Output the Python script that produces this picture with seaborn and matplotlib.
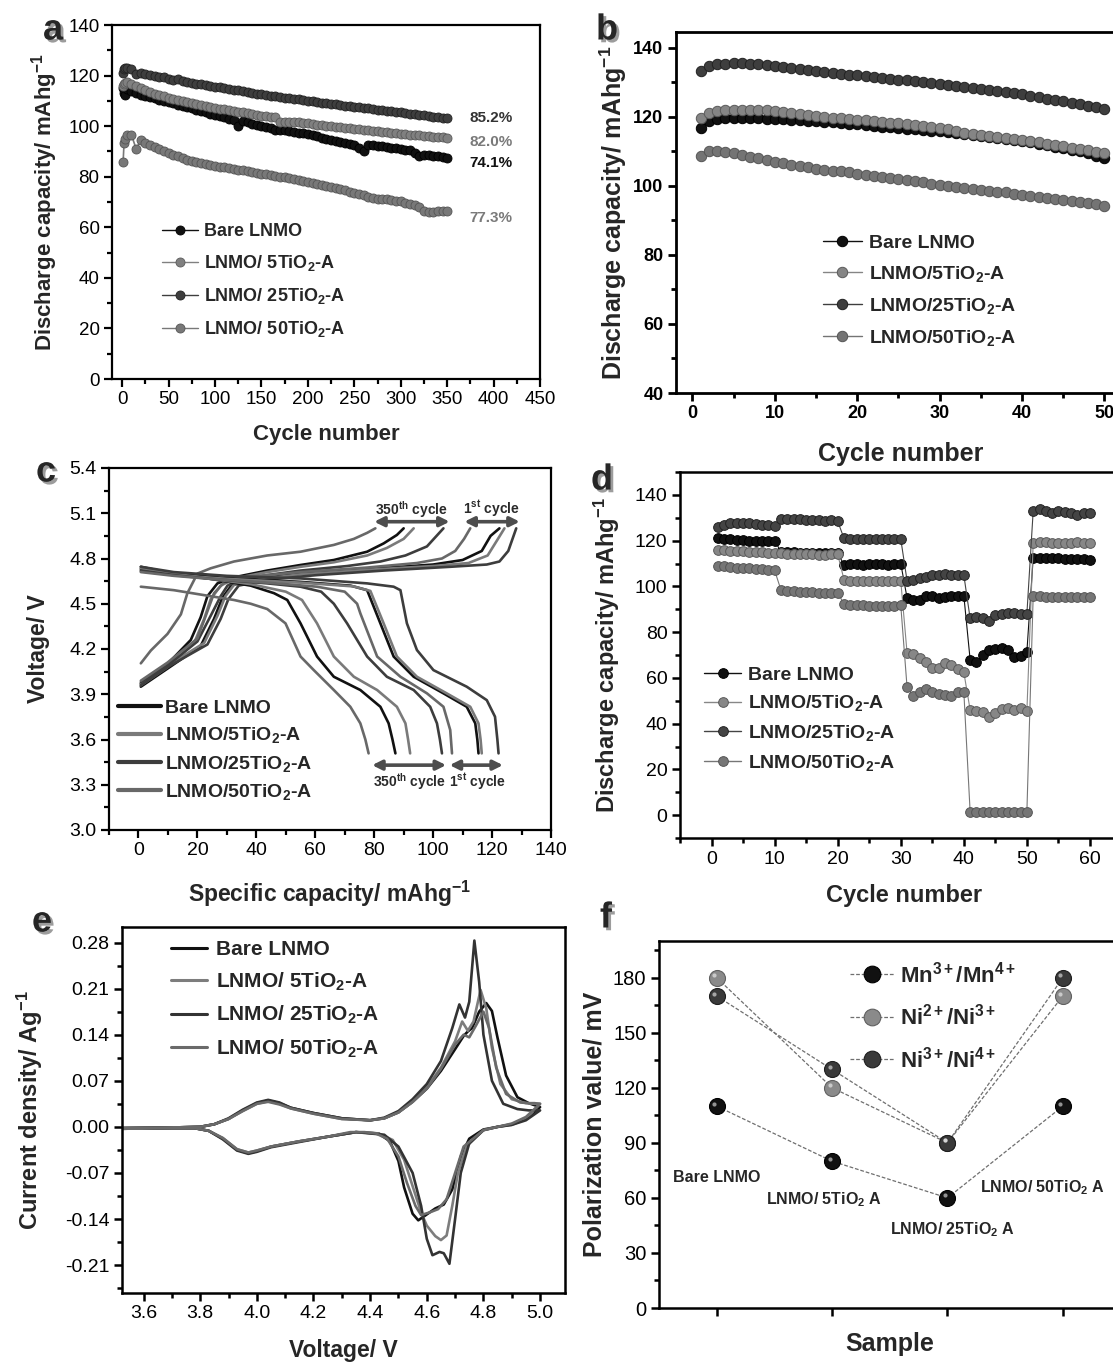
import numpy as np
import pandas as pd
import matplotlib
matplotlib.use('Agg')
import matplotlib.pyplot as plt
import seaborn as sns
from matplotlib.lines import Line2D
from matplotlib.ticker import MultipleLocator, NullFormatter
import matplotlib.patheffects as pe
import matplotlib.transforms as mtransforms

# ---------------- DATA ----------------
samples = ['Bare LNMO', 'LNMO/ 5TiO2-A', 'LNMO/ 25TiO2-A', 'LNMO/ 50TiO2-A']

# panel a : long cycling (value every 5 cycles)
cycles_a = [1, 2, 3, 5, 10, 15, 20, 25, 30, 35,
            40, 45, 50, 55, 60, 65, 70, 75, 80, 85,
            90, 95, 100, 105, 110, 115, 120, 125, 130, 135,
            140, 145, 150, 155, 160, 165, 170, 175, 180, 185,
            190, 195, 200, 205, 210, 215, 220, 225, 230, 235,
            240, 245, 250, 255, 260, 265, 270, 275, 280, 285,
            290, 295, 300, 305, 310, 315, 320, 325, 330, 335,
            340, 345, 350]
a_bare = [115, 113, 112.5, 114.5, 113.8, 113, 112.5, 112, 111.5, 111,
          110.5, 110, 109.5, 109, 108.5, 108, 107.5, 107, 106.5, 106,
          105.5, 105, 104.5, 104, 103.5, 103, 102.5, 100, 102, 101.5,
          101, 100.6, 100.2, 99.8, 99.4, 98.6, 98.6, 98.3, 98, 97.7,
          97.4, 97.1, 96.8, 96.4, 96, 95.5, 95, 94.7, 94.3, 93.9,
          93.5, 93, 92.5, 91.3, 90, 92.5, 92.5, 92.3, 92, 91.8,
          91.5, 91.2, 91, 90.7, 90.5, 89.2, 88.2, 88.5, 88.5, 88.2,
          88, 87.8, 87.5]
a_5ti = [116, 116.5, 117, 117.5, 116.5, 115.8, 115, 114.2, 113.5, 112.9,
         112.3, 111.8, 111.3, 110.8, 110.3, 109.9, 109.5, 109.1, 108.7, 108.3,
         108, 107.6, 107.3, 106.9, 106.6, 106.3, 106, 105.7, 105.4, 105.1,
         104.8, 104.5, 104.2, 104, 103.8, 103.5, 101.5, 101.5, 101.8, 101.7,
         101.5, 101.4, 101.2, 100.9, 100.6, 100.4, 100.2, 100, 99.8, 99.5,
         99.3, 99.1, 99, 98.8, 98.6, 98.4, 98.2, 98, 97.8, 97.6,
         97.4, 97.2, 97, 96.8, 96.6, 96.4, 96.3, 96.1, 96, 95.8,
         95.7, 95.6, 95.5]
a_25ti = [121, 122.5, 123, 123, 122.5, 120.5, 121, 120.6, 120.3, 119.9,
          119.5, 119.3, 118.5, 118.3, 118.8, 117.9, 117.5, 117.1, 116.8, 116.5,
          116.2, 115.9, 115.6, 115.3, 115, 114.7, 114.4, 114.1, 113.8, 113.5,
          113.2, 112.9, 112.7, 112.4, 112.1, 111.8, 111.6, 111.3, 111.1, 110.8,
          110.6, 110.3, 110.1, 109.8, 109.6, 109.3, 109.1, 108.8, 108.6, 108.3,
          108.1, 107.9, 107.7, 107.5, 107.3, 107, 106.8, 106.5, 106.3, 106.1,
          105.9, 105.7, 105.5, 105.2, 105, 104.8, 104.6, 104.3, 104.1, 103.8,
          103.6, 103.4, 103.2]
a_50ti = [86, 93.5, 95, 96.5, 96.5, 91, 94.5, 93.5, 92.5, 91.6,
          90.8, 90, 89.3, 88.6, 88, 87.4, 86.8, 86.3, 85.8, 85.4,
          85, 84.6, 84.3, 84, 83.8, 83.5, 83.2, 82.8, 82.5, 82.1,
          81.8, 81.5, 81.2, 80.9, 80.6, 80.3, 80, 79.7, 79.4, 79,
          78.7, 78.3, 78, 77.6, 77.2, 76.8, 76.4, 75.9, 75.5, 75,
          74.6, 74.1, 73.7, 73.2, 72.7, 72.1, 71.5, 71.3, 71.2, 71,
          70.8, 70.5, 70.2, 69.8, 69.4, 68.8, 68, 66.5, 66, 66.1,
          66.3, 66.4, 66.5]
a_retention = ['74.1%', '82.0%', '85.2%', '77.3%']
a_ret_pos = [85.3, 93.8, 103.2, 63.5]

# panel b : 50 cycles
cycles_b = list(range(1, 51))
b_bare = [116.8, 118.7, 119.4, 119.7, 119.8, 119.8, 119.7, 119.6, 119.5, 119.4,
          119.3, 119.2, 119.0, 118.9, 118.7, 118.6, 118.4, 118.2, 118.0, 117.8,
          117.6, 117.4, 117.2, 117.0, 116.8, 116.6, 116.4, 116.2, 116.0, 115.8,
          115.5, 115.3, 115.0, 114.7, 114.4, 114.1, 113.9, 113.6, 113.3, 113.0,
          112.6, 112.2, 111.8, 111.4, 111.0, 110.5, 110.0, 109.4, 108.8, 108.1]
b_5ti = [119.7, 121.2, 121.6, 122.0, 122.1, 122.1, 122.1, 122.0, 121.9, 121.7,
         121.5, 121.2, 120.9, 120.6, 120.3, 120.0, 119.8, 119.6, 119.4, 119.2,
         119.0, 118.8, 118.5, 118.3, 118.1, 117.8, 117.6, 117.3, 117.1, 116.8,
         116.4, 115.8, 115.4, 115.1, 114.9, 114.6, 114.3, 114.0, 113.7, 113.4,
         113.0, 112.6, 112.2, 111.9, 111.5, 111.1, 110.7, 110.3, 109.8, 109.4]
b_25ti = [133.2, 134.7, 135.2, 135.4, 135.5, 135.5, 135.4, 135.2, 135.0, 134.7,
          134.4, 134.1, 133.8, 133.5, 133.2, 133.0, 132.7, 132.5, 132.2, 132.0,
          131.8, 131.5, 131.3, 131.0, 130.8, 130.6, 130.3, 130.1, 129.8, 129.6,
          129.3, 129.0, 128.7, 128.4, 128.1, 127.8, 127.5, 127.2, 126.8, 126.5,
          126.1, 125.7, 125.3, 124.9, 124.5, 124.1, 123.7, 123.2, 122.8, 122.3]
b_50ti = [108.6, 110.0, 110.0, 109.8, 109.4, 109.0, 108.5, 108.0, 107.5, 107.0,
          106.6, 106.2, 105.8, 105.4, 105.0, 104.7, 104.4, 104.2, 103.9, 103.6,
          103.3, 103.0, 102.6, 102.3, 102.0, 101.7, 101.4, 101.0, 100.7, 100.4,
          100.1, 99.8, 99.5, 99.2, 98.9, 98.6, 98.3, 98.1, 97.8, 97.5,
          97.2, 96.9, 96.6, 96.3, 96.0, 95.7, 95.3, 95.0, 94.7, 94.3]

# panel c : charge (chg) / discharge (dis) curves, 1st and 350th cycle
chg_50ti_350_x = [0.8, 4.2, 9.85, 14.4, 16.6, 20.0, 24.5, 32.4, 43.7, 55.0, 66.3, 73.1, 77.6, 80.4]
chg_50ti_350_v = [4.105, 4.19, 4.30, 4.43, 4.57, 4.70, 4.735, 4.78, 4.82, 4.845, 4.89, 4.93, 4.97, 5.0]
chg_bare_350_x = [0.8, 9.85, 17.75, 21.1, 23.4, 26.8, 32.4, 43.7, 55.0, 66.3, 77.6, 83.2, 87.7, 90.0]
chg_bare_350_v = [3.97, 4.10, 4.26, 4.41, 4.55, 4.635, 4.675, 4.72, 4.757, 4.79, 4.845, 4.90, 4.956, 5.0]
chg_5ti_350_x = [0.8, 9.85, 18.9, 22.3, 24.5, 27.9, 33.0, 43.7, 55.0, 66.3, 77.6, 84.3, 90.0, 93.4]
chg_5ti_350_v = [3.96, 4.08, 4.24, 4.40, 4.53, 4.62, 4.67, 4.71, 4.745, 4.775, 4.82, 4.87, 4.93, 5.0]
chg_25ti_350_x = [0.8, 9.85, 20.0, 24.5, 27.9, 30.2, 35.0, 43.7, 55.0, 70.8, 82.1, 90.6, 97.9, 103.5]
chg_25ti_350_v = [3.98, 4.09, 4.25, 4.42, 4.55, 4.62, 4.66, 4.69, 4.72, 4.75, 4.78, 4.82, 4.88, 5.0]
chg_50ti_1_x = [0.8, 9.85, 20.0, 23.4, 25.65, 29.0, 38.1, 55.0, 77.6, 94.5, 103.0, 107.5, 110.5, 112.6]
chg_50ti_1_v = [3.99, 4.11, 4.27, 4.45, 4.57, 4.64, 4.68, 4.71, 4.74, 4.77, 4.80, 4.85, 4.93, 5.0]
chg_bare_1_x = [0.8, 9.85, 21.1, 25.65, 28.5, 31.5, 38.1, 55.0, 77.6, 100.0, 110.0, 116.5, 119.5, 122.5]
chg_bare_1_v = [3.95, 4.07, 4.22, 4.40, 4.54, 4.62, 4.66, 4.70, 4.73, 4.76, 4.79, 4.85, 4.95, 5.0]
chg_5ti_1_x = [0.8, 9.85, 22.3, 26.8, 29.5, 32.4, 40.0, 55.0, 77.6, 100.0, 112.0, 118.5, 122.0, 124.2]
chg_5ti_1_v = [3.97, 4.09, 4.24, 4.42, 4.55, 4.625, 4.66, 4.695, 4.725, 4.75, 4.77, 4.82, 4.93, 5.0]
chg_25ti_1_x = [0.8, 9.85, 23.4, 27.9, 30.5, 34.0, 43.7, 60.6, 83.2, 105.8, 118.2, 122.5, 125.5, 128.2]
chg_25ti_1_v = [3.96, 4.08, 4.23, 4.40, 4.53, 4.62, 4.66, 4.69, 4.72, 4.745, 4.76, 4.78, 4.85, 5.0]

dis_50ti_350_x = [0.8, 12, 24.5, 32.4, 38.1, 43.7, 49.9, 55.0, 59.5, 66.3, 71.9, 75.3, 77.0, 78.1]
dis_50ti_350_v = [4.613, 4.59, 4.55, 4.525, 4.50, 4.465, 4.37, 4.15, 4.06, 3.928, 3.817, 3.707, 3.60, 3.508]
dis_bare_350_x = [0.8, 12, 24.5, 38.1, 46.0, 50.5, 55.0, 60.6, 66.3, 75.3, 82.1, 84.9, 86.2, 87.2]
dis_bare_350_v = [4.745, 4.70, 4.665, 4.62, 4.57, 4.525, 4.37, 4.15, 4.016, 3.928, 3.817, 3.707, 3.60, 3.508]
dis_5ti_350_x = [0.8, 12, 24.5, 38.1, 50.0, 55.5, 60.6, 66.3, 73.1, 81.0, 87.7, 90.6, 91.5, 92.2]
dis_5ti_350_v = [4.735, 4.70, 4.665, 4.63, 4.58, 4.525, 4.37, 4.15, 4.016, 3.928, 3.817, 3.707, 3.60, 3.508]
dis_25ti_350_x = [0.8, 12, 24.5, 43.7, 55.0, 62.0, 66.3, 70.8, 77.6, 84.3, 93.4, 99.0, 101.3, 102.3, 103.0]
dis_25ti_350_v = [4.72, 4.69, 4.665, 4.635, 4.613, 4.58, 4.50, 4.37, 4.15, 4.016, 3.928, 3.817, 3.707, 3.60, 3.508]
dis_50ti_1_x = [0.8, 12, 24.5, 43.7, 60.6, 70.0, 74.2, 75.3, 81.0, 88.9, 97.9, 103.5, 105.8, 106.4]
dis_50ti_1_v = [4.71, 4.685, 4.665, 4.64, 4.613, 4.58, 4.50, 4.436, 4.15, 4.016, 3.906, 3.817, 3.663, 3.508]
dis_bare_1_x = [0.8, 12, 30, 55, 72, 77.6, 82.1, 86.6, 93.4, 103.5, 111.4, 114.3, 115.0, 115.4]
dis_bare_1_v = [4.73, 4.70, 4.67, 4.645, 4.62, 4.59, 4.37, 4.15, 4.016, 3.906, 3.817, 3.707, 3.60, 3.508]
dis_5ti_1_x = [0.8, 12, 30, 55, 73, 78.7, 83.2, 87.7, 94.5, 104.6, 112.6, 115.4, 116.1, 116.5]
dis_5ti_1_v = [4.715, 4.69, 4.665, 4.64, 4.615, 4.585, 4.37, 4.15, 4.016, 3.906, 3.817, 3.707, 3.60, 3.508]
dis_25ti_1_x = [0.8, 12, 30, 55, 77.6, 86.6, 88.9, 91.1, 94.5, 100.1, 111.4, 118.2, 121.0, 121.8, 122.2]
dis_25ti_1_v = [4.745, 4.71, 4.685, 4.668, 4.635, 4.613, 4.59, 4.37, 4.193, 4.06, 3.95, 3.861, 3.751, 3.60, 3.508]

# panel d : rate capability
cycles_d = list(range(1, 61))
d_bare = [121, 120.5, 120.5, 120.3, 120.2, 120, 120, 120, 120, 120,
          115.2, 115, 115, 114.8, 114.7, 114.6, 114.5, 114.5, 114.5, 114.5,
          109.5, 110, 110, 109.5, 110, 110, 110, 109.5, 110, 110,
          95, 94, 94, 96, 96, 95, 95.5, 96, 96, 96,
          68, 67, 70, 72, 72.5, 73, 72, 69, 69.5, 71.5,
          112.5, 112.5, 112.5, 112.5, 112.3, 112, 112, 112, 111.8, 111.5]
d_5ti = [116, 115.8, 115.5, 115.5, 115.3, 115, 115, 115, 114.8, 114.5,
         114.5, 114.3, 114.3, 114.2, 114, 114, 113.8, 113.8, 114, 114,
         103, 102.5, 102.5, 102.5, 102.5, 102.5, 102.5, 102.5, 102.5, 102.5,
         71, 70.5, 68.5, 67, 64.5, 64.5, 66.5, 65.5, 64, 62.5,
         46, 45.5, 45, 43, 44.5, 46.5, 47, 46, 47, 45.5,
         119, 119.5, 119.3, 119, 118.8, 119, 119, 119.5, 119, 118.8]
d_25ti = [126, 127, 127.5, 127.5, 127.5, 127.5, 127.3, 127, 126.8, 126.5,
          129.5, 129.5, 129.3, 129.3, 129, 128.8, 128.8, 128.5, 129.2, 128.5,
          121, 120.8, 120.8, 120.8, 120.8, 120.8, 120.8, 120.8, 120.7, 120.7,
          102.5, 103, 103.5, 104, 105, 105, 105.3, 105, 105, 105,
          86, 86.5, 86, 85, 87.5, 88, 88.5, 88.5, 88, 88,
          133, 134, 133, 132, 133, 132.5, 132, 131, 132, 132]
d_50ti = [109, 108.8, 108.3, 108, 108, 108, 107.7, 107.5, 107.2, 107,
          98.5, 98, 97.8, 97.6, 97.6, 97.5, 97.3, 97.2, 97.2, 97,
          92.5, 92, 91.8, 91.7, 91.5, 91.5, 91.5, 91.5, 91.5, 91.8,
          56, 52, 54, 55, 54, 53, 52.5, 52, 54, 54,
          1.5, 1.5, 1.5, 1.5, 1.5, 1.5, 1.5, 1.5, 1.5, 1.5,
          96, 96, 95.5, 95.5, 95.5, 95.5, 95.5, 95.3, 95.3, 95.3]

# panel e : cyclic voltammetry loops (anodic then cathodic)
e_bare_v = [3.50, 3.70, 3.80, 3.85, 3.90, 3.95, 4.00, 4.04, 4.08, 4.12,
            4.20, 4.30, 4.40, 4.45, 4.50, 4.55, 4.60, 4.65, 4.70, 4.73,
            4.745, 4.76, 4.785, 4.81, 4.83, 4.85, 4.88, 4.92, 4.96, 5.00,
            4.95, 4.90, 4.85, 4.80, 4.75, 4.72, 4.69, 4.66, 4.63, 4.60,
            4.57, 4.55, 4.52, 4.50, 4.47, 4.43, 4.35, 4.25, 4.15, 4.05,
            4.00, 3.97, 3.93, 3.88, 3.83, 3.78, 3.70, 3.50]
e_bare_i = [-0.002, -0.001, 0.000, 0.004, 0.012, 0.025, 0.036, 0.040, 0.036, 0.029,
            0.021, 0.013, 0.010, 0.013, 0.022, 0.038, 0.058, 0.085, 0.118, 0.138,
            0.145, 0.150, 0.175, 0.188, 0.176, 0.135, 0.078, 0.045, 0.036, 0.030,
            0.012, 0.004, 0.000, -0.004, -0.018, -0.045, -0.095, -0.118, -0.124, -0.133,
            -0.142, -0.132, -0.092, -0.052, -0.022, -0.010, -0.008, -0.015, -0.022, -0.030,
            -0.037, -0.040, -0.035, -0.018, -0.006, -0.002, -0.002, -0.003]
e_5ti_v = [3.50, 3.70, 3.80, 3.85, 3.90, 3.95, 4.00, 4.04, 4.08, 4.12,
           4.20, 4.30, 4.40, 4.45, 4.50, 4.55, 4.60, 4.65, 4.70, 4.725,
           4.745, 4.765, 4.79, 4.81, 4.83, 4.86, 4.90, 4.95, 4.98, 5.00,
           4.95, 4.90, 4.85, 4.80, 4.74, 4.71, 4.69, 4.67, 4.65, 4.63,
           4.60, 4.58, 4.55, 4.52, 4.48, 4.43, 4.35, 4.25, 4.15, 4.05,
           4.00, 3.97, 3.93, 3.88, 3.83, 3.78, 3.70, 3.50]
e_5ti_i = [-0.002, -0.001, 0.000, 0.004, 0.012, 0.024, 0.035, 0.039, 0.035, 0.028,
           0.020, 0.012, 0.010, 0.013, 0.022, 0.038, 0.060, 0.090, 0.130, 0.160,
           0.146, 0.160, 0.208, 0.180, 0.120, 0.065, 0.042, 0.036, 0.035, 0.035,
           0.012, 0.003, 0.000, -0.005, -0.030, -0.070, -0.120, -0.165, -0.172, -0.166,
           -0.150, -0.130, -0.090, -0.050, -0.020, -0.010, -0.008, -0.015, -0.022, -0.030,
           -0.036, -0.039, -0.034, -0.017, -0.006, -0.002, -0.002, -0.003]
e_25ti_v = [3.50, 3.70, 3.80, 3.85, 3.90, 3.95, 4.00, 4.04, 4.08, 4.12,
            4.20, 4.30, 4.40, 4.45, 4.50, 4.55, 4.60, 4.65, 4.69, 4.715,
            4.735, 4.75, 4.768, 4.785, 4.80, 4.83, 4.87, 4.92, 4.96, 5.00,
            4.95, 4.90, 4.85, 4.80, 4.75, 4.72, 4.70, 4.68, 4.66, 4.645,
            4.62, 4.60, 4.58, 4.55, 4.50, 4.45, 4.35, 4.25, 4.15, 4.05,
            4.00, 3.97, 3.93, 3.88, 3.83, 3.78, 3.70, 3.50]
e_25ti_i = [-0.002, -0.001, 0.000, 0.004, 0.013, 0.026, 0.037, 0.041, 0.037, 0.029,
            0.021, 0.013, 0.010, 0.014, 0.024, 0.042, 0.065, 0.100, 0.150, 0.186,
            0.166, 0.190, 0.283, 0.220, 0.140, 0.070, 0.035, 0.027, 0.025, 0.025,
            0.010, 0.003, 0.000, -0.005, -0.025, -0.070, -0.140, -0.208, -0.192, -0.190,
            -0.195, -0.170, -0.120, -0.070, -0.030, -0.012, -0.008, -0.015, -0.023, -0.031,
            -0.038, -0.041, -0.036, -0.019, -0.006, -0.002, -0.002, -0.003]
e_50ti_v = [3.50, 3.70, 3.80, 3.85, 3.90, 3.95, 4.00, 4.04, 4.08, 4.12,
            4.20, 4.30, 4.40, 4.45, 4.50, 4.55, 4.60, 4.65, 4.70, 4.73,
            4.75, 4.775, 4.80, 4.82, 4.845, 4.88, 4.93, 4.96, 4.98, 5.00,
            4.95, 4.90, 4.85, 4.80, 4.73, 4.70, 4.67, 4.64, 4.61, 4.58,
            4.56, 4.53, 4.50, 4.46, 4.42, 4.38, 4.33, 4.25, 4.15, 4.05,
            4.00, 3.97, 3.93, 3.88, 3.83, 3.78, 3.70, 3.50]
e_50ti_i = [-0.002, -0.001, 0.000, 0.004, 0.012, 0.024, 0.035, 0.038, 0.034, 0.028,
            0.020, 0.012, 0.010, 0.013, 0.022, 0.038, 0.058, 0.088, 0.125, 0.140,
            0.136, 0.155, 0.175, 0.150, 0.090, 0.050, 0.037, 0.036, 0.036, 0.035,
            0.015, 0.005, 0.000, -0.005, -0.030, -0.070, -0.110, -0.125, -0.130, -0.134,
            -0.120, -0.085, -0.045, -0.018, -0.010, -0.008, -0.008, -0.015, -0.022, -0.030,
            -0.036, -0.039, -0.034, -0.017, -0.006, -0.002, -0.002, -0.003]

# panel f : polarization
f_pos = [1, 2, 3, 4]
f_names = ['Bare LNMO', 'LNMO/ 5TiO2 A', 'LNMO/ 25TiO2 A', 'LNMO/ 50TiO2 A']
f_mn = [110, 80, 60, 110]
f_ni23 = [180, 120, 90, 170]
f_ni34 = [170, 130, 90, 180]

# ---------------- STYLE ----------------
sns.set_theme(style='ticks')
plt.rcParams['font.family'] = ['Liberation Sans', 'DejaVu Sans']
plt.rcParams['mathtext.fontset'] = 'custom'
plt.rcParams['mathtext.rm'] = 'Liberation Sans'
plt.rcParams['mathtext.bf'] = 'Liberation Sans:bold'
plt.rcParams['mathtext.it'] = 'Liberation Sans:italic'
plt.rcParams['axes.unicode_minus'] = False

W, H = 1113, 1365
fig = plt.figure(figsize=(W / 100, H / 100), dpi=100)
fig.patch.set_facecolor('white')


def ax_at(l, t, r, b):
    return fig.add_axes([l / W, 1 - b / H, (r - l) / W, (b - t) / H])


def style(ax, lw=1.6, fs=13, bold=False):
    for s in ax.spines.values():
        s.set_linewidth(lw)
        s.set_color('black')
    ax.set_facecolor('white')
    ax.grid(False)
    ax.tick_params(which='both', direction='out', top=False, right=False,
                   width=lw, colors='black', labelsize=fs, pad=3)
    ax.tick_params(which='major', length=6)
    ax.tick_params(which='minor', length=3.5)
    if bold:
        for t in ax.get_xticklabels() + ax.get_yticklabels():
            t.set_fontweight('bold')


def lab(prefix, n, suffix='-A'):
    return prefix + n + 'TiO$_{\\mathbf{2}}$' + suffix


def letter(px, py, s):
    fig.text(px / W, 1 - py / H, s, fontsize=26, fontweight='bold', ha='center', va='center',
             path_effects=[pe.withSimplePatchShadow(offset=(2, -2), shadow_rgbFace='0.45', alpha=0.7)])


colA = ['#111111', '#808080', '#3e3e3e', '#787878']
edgeA = ['#000000', '#5a5a5a', '#222222', '#555555']
ylab_cap = 'Discharge capacity/ mAhg$^{\\mathbf{-1}}$'

# ---------------- PANEL A ----------------
ax = ax_at(112, 25, 540, 379)
series_a = [a_bare, a_5ti, a_25ti, a_50ti]
for i, ys in enumerate(series_a):
    sns.lineplot(x=cycles_a, y=ys, ax=ax, color=colA[i], lw=1.2, marker='o', markersize=6.5,
                 markeredgecolor=edgeA[i], markeredgewidth=0.6, estimator=None, sort=False, legend=False)
ax.set_xlim(-11, 450)
ax.set_ylim(0, 140)
ax.xaxis.set_major_locator(MultipleLocator(50))
ax.xaxis.set_minor_locator(MultipleLocator(25))
ax.yaxis.set_major_locator(MultipleLocator(20))
ax.yaxis.set_minor_locator(MultipleLocator(10))
style(ax, lw=1.6, fs=13.5)
ax.set_xlabel('Cycle number', fontsize=16, fontweight='bold', labelpad=11)
ax.set_ylabel(ylab_cap, fontsize=16, fontweight='bold', labelpad=6)
ret_cols = ['#111111', '#7a7a7a', '#333333', '#7a7a7a']
for i in range(4):
    ax.text(374, a_ret_pos[i], a_retention[i], fontsize=11, fontweight='bold',
            color=ret_cols[i], ha='left', va='center')
hA = [Line2D([], [], color=colA[i], lw=1.0, marker='o', ms=6.5, mec=edgeA[i], mew=0.6) for i in range(4)]
labsA = ['Bare LNMO', lab('LNMO/ ', '5'), lab('LNMO/ ', '25'), lab('LNMO/ ', '50')]
ax.legend(hA, labsA, loc='upper left', bbox_to_anchor=(0.117, 0.44), frameon=False,
          prop={'size': 13, 'weight': 'bold'}, handlelength=2.0, handletextpad=0.3,
          labelspacing=0.72, borderaxespad=0, borderpad=0)
letter(53, 30, 'a')

# ---------------- PANEL B ----------------
ax = ax_at(676, 32, 676 + 54.5 * 8.24, 393)
series_b = [b_bare, b_5ti, b_25ti, b_50ti]
colB = ['#111111', '#858585', '#3e3e3e', '#747474']
for i, ys in enumerate(series_b):
    sns.lineplot(x=cycles_b, y=ys, ax=ax, color=colB[i], lw=0.8, marker='o', markersize=7.5,
                 markeredgecolor=edgeA[i], markeredgewidth=0.7, estimator=None, sort=False, legend=False)
ax.set_xlim(-2, 52.5)
ax.set_ylim(40, 144.6)
ax.xaxis.set_major_locator(MultipleLocator(10))
ax.xaxis.set_minor_locator(MultipleLocator(5))
ax.yaxis.set_major_locator(MultipleLocator(20))
ax.yaxis.set_minor_locator(MultipleLocator(10))
style(ax, lw=2.0, fs=13, bold=True)
ax.set_xlabel('Cycle number', fontsize=18, fontweight='bold', labelpad=14)
ax.set_ylabel(ylab_cap, fontsize=18, fontweight='bold', labelpad=3)
hB = [Line2D([], [], color=colB[i], lw=1.0, marker='o', ms=7.5, mec=edgeA[i], mew=0.7) for i in range(4)]
labsB = ['Bare LNMO', lab('LNMO/', '5'), lab('LNMO/', '25'), lab('LNMO/', '50')]
ax.legend(hB, labsB, loc='upper left', bbox_to_anchor=(0.327, 0.44), frameon=False,
          prop={'size': 14, 'weight': 'bold'}, handlelength=2.0, handletextpad=0.35,
          labelspacing=0.62, borderaxespad=0, borderpad=0)
letter(607, 30, 'b')

# ---------------- PANEL C ----------------
ax = ax_at(109, 468, 551, 830)
colC = ['#111111', '#7a7a7a', '#3d3d3d', '#686868']
curves = [
    (chg_bare_1_x, chg_bare_1_v, 0), (chg_bare_350_x, chg_bare_350_v, 0),
    (chg_5ti_1_x, chg_5ti_1_v, 1), (chg_5ti_350_x, chg_5ti_350_v, 1),
    (chg_25ti_1_x, chg_25ti_1_v, 2), (chg_25ti_350_x, chg_25ti_350_v, 2),
    (chg_50ti_1_x, chg_50ti_1_v, 3), (chg_50ti_350_x, chg_50ti_350_v, 3),
    (dis_bare_1_x, dis_bare_1_v, 0), (dis_bare_350_x, dis_bare_350_v, 0),
    (dis_5ti_1_x, dis_5ti_1_v, 1), (dis_5ti_350_x, dis_5ti_350_v, 1),
    (dis_25ti_1_x, dis_25ti_1_v, 2), (dis_25ti_350_x, dis_25ti_350_v, 2),
    (dis_50ti_1_x, dis_50ti_1_v, 3), (dis_50ti_350_x, dis_50ti_350_v, 3),
]
for xs, vs, k in curves:
    sns.lineplot(x=xs, y=vs, ax=ax, color=colC[k], lw=1.9, estimator=None, sort=False, legend=False)
ax.set_xlim(-10, 140)
ax.set_ylim(3.0, 5.4)
ax.xaxis.set_major_locator(MultipleLocator(20))
ax.xaxis.set_minor_locator(MultipleLocator(10))
ax.yaxis.set_major_locator(MultipleLocator(0.3))
ax.yaxis.set_minor_locator(MultipleLocator(0.15))
ax.yaxis.set_major_formatter(matplotlib.ticker.FormatStrFormatter('%.1f'))
style(ax, lw=1.6, fs=14)
ax.set_xlabel('Specific capacity/ mAhg$^{\\mathbf{-1}}$', fontsize=16.5, fontweight='bold', labelpad=14)
ax.set_ylabel('Voltage/ V', fontsize=16.5, fontweight='bold', labelpad=14)
hC = [Line2D([], [], color=colC[i], lw=3) for i in range(4)]
labsC = ['Bare LNMO', lab('LNMO/', '5'), lab('LNMO/', '25'), lab('LNMO/', '50')]
ax.legend(hC, labsC, loc='upper left', bbox_to_anchor=(0.02, 0.36), frameon=False,
          prop={'size': 14, 'weight': 'bold'}, handlelength=2.2, handletextpad=0.2,
          labelspacing=0.42, borderaxespad=0, borderpad=0)
arrow_kw = dict(arrowstyle='<|-|>', color='#4d4d4d', lw=2.6, mutation_scale=14, shrinkA=0, shrinkB=0)
ax.annotate('', xy=(105.6, 5.044), xytext=(80, 5.044), arrowprops=arrow_kw)
ax.annotate('', xy=(129.4, 5.044), xytext=(110.6, 5.044), arrowprops=arrow_kw)
ax.annotate('', xy=(104.4, 3.43), xytext=(79.3, 3.43), arrowprops=arrow_kw)
ax.annotate('', xy=(123.7, 3.43), xytext=(105.6, 3.43), arrowprops=arrow_kw)
tk = dict(fontsize=10, fontweight='bold', color='#2a2a2a', ha='center', va='center',
          family=['Liberation Sans Narrow', 'Liberation Sans', 'DejaVu Sans'])
ax.text(92.6, 5.125, '350$^{\\mathbf{th}}$ cycle', **tk)
ax.text(119.7, 5.13, '1$^{\\mathbf{st}}$ cycle', **tk)
ax.text(92.0, 3.32, '350$^{\\mathbf{th}}$ cycle', **tk)
ax.text(115.2, 3.32, '1$^{\\mathbf{st}}$ cycle', **tk)
letter(46, 472, 'c')

# ---------------- PANEL D ----------------
ax = ax_at(680, 472, 712 + 66 * 6.3, 838)
series_d = [d_bare, d_5ti, d_25ti, d_50ti]
colD = ['#111111', '#878787', '#444444', '#767676']
for i, ys in enumerate(series_d):
    sns.lineplot(x=cycles_d, y=ys, ax=ax, color=colD[i], lw=0.8, marker='o', markersize=7,
                 markeredgecolor=edgeA[i], markeredgewidth=0.7, estimator=None, sort=False, legend=False)
ax.set_xlim(-5, 66)
ax.set_ylim(-10, 150)
ax.xaxis.set_major_locator(MultipleLocator(10))
ax.xaxis.set_minor_locator(MultipleLocator(5))
ax.set_yticks([0, 20, 40, 60, 80, 100, 120, 140])
ax.yaxis.set_minor_locator(MultipleLocator(10))
style(ax, lw=1.8, fs=14)
ax.set_xlabel('Cycle number', fontsize=17, fontweight='bold', labelpad=12)
ax.set_ylabel(ylab_cap, fontsize=17, fontweight='bold', labelpad=9)
hD = [Line2D([], [], color=colD[i], lw=1.0, marker='o', ms=7, mec=edgeA[i], mew=0.7) for i in range(4)]
labsD = ['Bare LNMO', lab('LNMO/', '5'), lab('LNMO/', '25'), lab('LNMO/', '50')]
ax.legend(hD, labsD, loc='upper left', bbox_to_anchor=(0.054, 0.47), frameon=False,
          prop={'size': 14, 'weight': 'bold'}, handlelength=1.9, handletextpad=0.35,
          labelspacing=0.5, borderaxespad=0, borderpad=0)
letter(602, 480, 'd')

# ---------------- PANEL E ----------------
ax = ax_at(122, 927, 565, 1293)
loops = [(e_bare_v, e_bare_i), (e_5ti_v, e_5ti_i), (e_25ti_v, e_25ti_i), (e_50ti_v, e_50ti_i)]
colE = ['#111111', '#7d7d7d', '#333333', '#6a6a6a']
for i, (vs, cs) in enumerate(loops):
    sns.lineplot(x=vs, y=cs, ax=ax, color=colE[i], lw=1.9, estimator=None, sort=False, legend=False)
ax.set_xlim(3.524, 5.088)
ax.set_ylim(-0.2524, 0.3036)
ax.xaxis.set_major_locator(MultipleLocator(0.2))
ax.xaxis.set_minor_locator(MultipleLocator(0.1))
ax.set_yticks([-0.21, -0.14, -0.07, 0.0, 0.07, 0.14, 0.21, 0.28])
ax.yaxis.set_minor_locator(MultipleLocator(0.035))
ax.yaxis.set_major_formatter(matplotlib.ticker.FormatStrFormatter('%.2f'))
ax.xaxis.set_major_formatter(matplotlib.ticker.FormatStrFormatter('%.1f'))
style(ax, lw=1.8, fs=14)
ax.set_xlabel('Voltage/ V', fontsize=16.5, fontweight='bold', labelpad=12)
ax.set_ylabel('Current density/ Ag$^{\\mathbf{-1}}$', fontsize=17, fontweight='bold', labelpad=14)
hE = [Line2D([], [], color=colE[i], lw=2.2) for i in range(4)]
labsE = ['Bare LNMO', lab('LNMO/ ', '5'), lab('LNMO/ ', '25'), lab('LNMO/ ', '50')]
ax.legend(hE, labsE, loc='upper left', bbox_to_anchor=(0.11, 0.965), frameon=False,
          prop={'size': 15, 'weight': 'bold'}, handlelength=1.75, handletextpad=0.4,
          labelspacing=0.55, borderaxespad=0, borderpad=0)
letter(42, 922, 'e')

# ---------------- PANEL F ----------------
ax = ax_at(659, 941, 717 + 3.5 * 115.3, 1308)
colF = ['#111111', '#8a8a8a', '#3a3a3a']
edgeF = ['#000000', '#606060', '#1e1e1e']
series_f = [f_mn, f_ni23, f_ni34]
hl = mtransforms.offset_copy(ax.transData, fig=fig, x=-2.5, y=2.5, units='dots')
for i, ys in enumerate(series_f):
    sns.lineplot(x=f_pos, y=ys, ax=ax, color='#6f6f6f', lw=0.9, linestyle=(0, (3, 1.5)),
                 marker='o', markersize=11.5, markerfacecolor=colF[i], markeredgecolor=edgeF[i],
                 markeredgewidth=0.8, estimator=None, sort=False, legend=False)
    ax.scatter(f_pos, ys, s=9, color='white', alpha=0.55, transform=hl, zorder=5, linewidths=0)
ax.set_xlim(0.5, 4.5)
ax.set_ylim(0, 200)
ax.set_xticks(f_pos)
ax.xaxis.set_major_formatter(NullFormatter())
ax.set_yticks([0, 30, 60, 90, 120, 150, 180])
ax.yaxis.set_minor_locator(MultipleLocator(15))
style(ax, lw=1.8, fs=14.5)
ax.set_xlabel('Sample', fontsize=18, fontweight='bold', labelpad=8)
ax.set_ylabel('Polarization value/ mV', fontsize=18, fontweight='bold', labelpad=5)
hF = [Line2D([], [], color='#6f6f6f', lw=0.9, linestyle=(0, (3, 1.5)), marker='o', ms=12,
             mfc=colF[i], mec=edgeF[i], mew=0.8) for i in range(3)]
labsF = ['Mn$^{\\mathbf{3+}}$/Mn$^{\\mathbf{4+}}$', 'Ni$^{\\mathbf{2+}}$/Ni$^{\\mathbf{3+}}$',
         'Ni$^{\\mathbf{3+}}$/Ni$^{\\mathbf{4+}}$']
ax.legend(hF, labsF, loc='upper left', bbox_to_anchor=(0.414, 0.945), frameon=False,
          prop={'size': 16, 'weight': 'bold'}, handlelength=2.0, handletextpad=0.25,
          labelspacing=0.75, borderaxespad=0, borderpad=0)
f_lab_x = [1.0, 1.93, 3.04, 3.28]
f_lab_y = [70.9, 58.9, 42.5, 65.4]
f_lab_ha = ['center', 'center', 'center', 'left']
f_lab_txt = ['Bare LNMO', 'LNMO/ 5TiO$_{\\mathbf{2}}$ A', 'LNMO/ 25TiO$_{\\mathbf{2}}$ A',
             'LNMO/ 50TiO$_{\\mathbf{2}}$ A']
for i in range(4):
    ax.text(f_lab_x[i], f_lab_y[i], f_lab_txt[i], fontsize=11.5, fontweight='bold',
            ha=f_lab_ha[i], va='center', clip_on=False)
letter(606, 918, 'f')

fig.savefig('out.png', dpi=100, facecolor='white')
